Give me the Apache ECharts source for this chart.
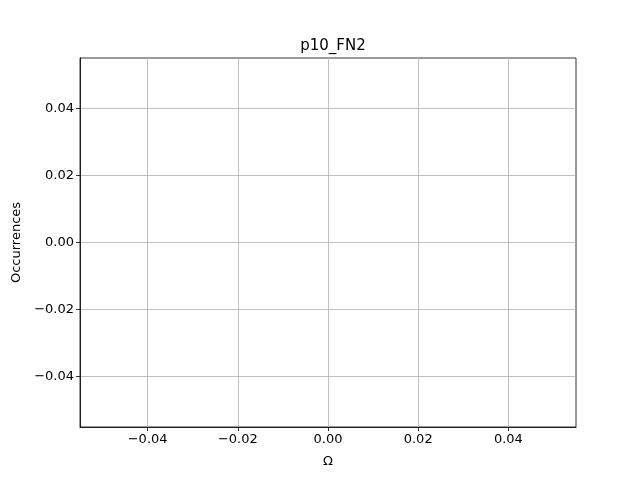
<!DOCTYPE html>
<html><head><meta charset="utf-8">
<script src="https://cdn.jsdelivr.net/npm/echarts@6/dist/echarts.min.js"></script>
<style>html,body{margin:0;padding:0;background:#fff}#c{width:640px;height:480px}</style>
</head><body><div id="c"></div>
<script>
var xTicks = [-0.04, -0.02, 0.00, 0.02, 0.04];
var yTicks = [-0.04, -0.02, 0.00, 0.02, 0.04];
var values = [];
function fmt(v){ var s = Math.abs(v).toFixed(2); return (v < -1e-9 ? '\u2212' : '') + s; }
var chart = echarts.init(document.getElementById('c'));
var font = 'DejaVu Sans';
function axis(name, ticks, gap){
  return {
    type: 'value', min: -0.055, max: 0.055, name: name, nameLocation: 'middle', nameGap: gap,
    nameTextStyle: {color: '#000', fontSize: 13, fontFamily: font},
    axisLine: {show: true, onZero: false, lineStyle: {color: '#000', width: 0.8}},
    axisTick: {show: true, customValues: ticks, length: 4, inside: false, lineStyle: {color: '#000', width: 0.8}},
    axisLabel: {customValues: ticks, formatter: fmt, color: '#000', fontSize: 13, fontFamily: font, margin: 6},
    splitLine: {show: true, lineStyle: {color: '#b0b0b0', width: 0.8}}
  };
}
chart.setOption({
  animation: false,
  title: {text: 'p10_FN2', left: 328, top: 34, textAlign: 'center',
    textStyle: {fontSize: 15, fontWeight: 'normal', color: '#000', fontFamily: font}},
  grid: {left: 80, right: 64, top: 58, bottom: 53, show: true, borderColor: '#000', borderWidth: 0.8},
  xAxis: axis('\u03a9', xTicks, 28),
  yAxis: axis('Occurrences', yTicks, 57),
  series: [{type: 'scatter', data: values}]
});
</script></body></html>
